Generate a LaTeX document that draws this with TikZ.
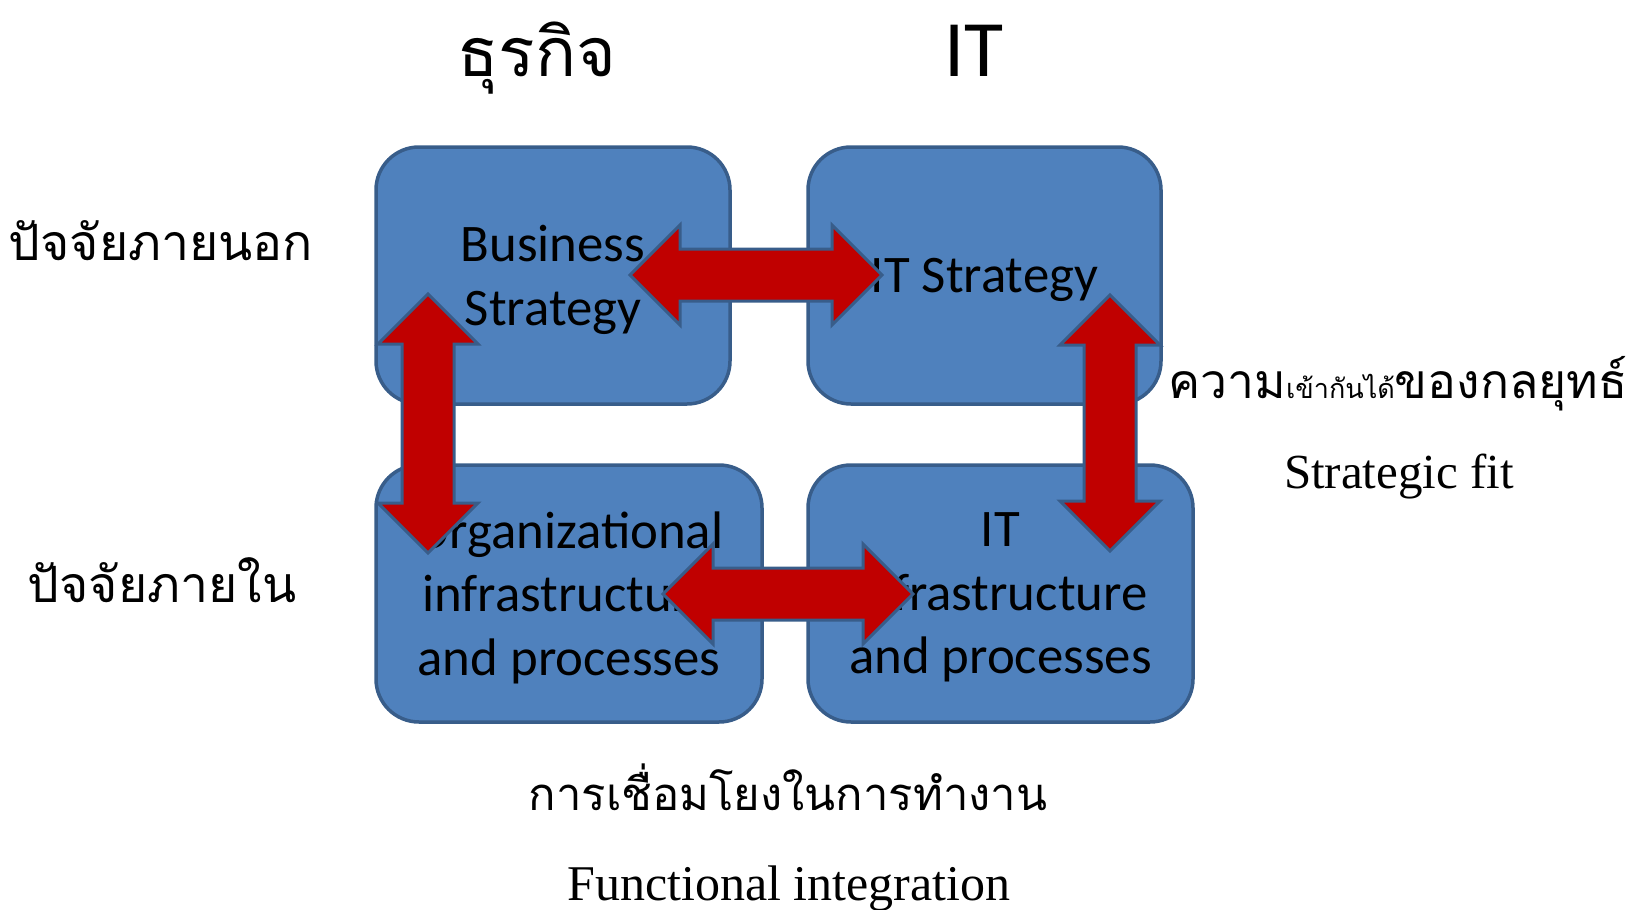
\documentclass[tikz,border=0pt]{standalone}
\usepackage{fontspec}
\setmainfont{Carlito}
\newfontfamily\thaifont[Script=Thai]{Loma}
\newfontfamily\timesfont{Liberation Serif}
\usetikzlibrary{calc}
\definecolor{boxblue}{HTML}{4F81BD}
\definecolor{boxline}{HTML}{385D8A}
\definecolor{fitred}{HTML}{C00000}

\newcommand{\fitarrow}[2]{%
  \filldraw[fitlink] (#1)
    -- ($(#1)!25pt!(#2)!25pt!90:(#2)$) -- ($(#1)!25pt!(#2)!13pt!90:(#2)$)
    -- ($(#2)!25pt!(#1)!13pt!-90:(#1)$) -- ($(#2)!25pt!(#1)!25pt!-90:(#1)$)
    -- (#2)
    -- ($(#2)!25pt!(#1)!25pt!90:(#1)$) -- ($(#2)!25pt!(#1)!13pt!90:(#1)$)
    -- ($(#1)!25pt!(#2)!13pt!-90:(#2)$) -- ($(#1)!25pt!(#2)!25pt!-90:(#2)$)
    -- cycle;}

\tikzset{
  box/.style={draw=boxline, fill=boxblue, line width=1.75pt, rounded corners=21.5pt,
    minimum height=128.5pt, align=center, text depth=0pt,
    font=\fontsize{26.4}{31.75}\selectfont},
  fitlink/.style={draw=boxline, fill=fitred, line width=1.5pt, line join=miter},
  label/.style={inner sep=0pt, anchor=base}
}

\begin{document}
\begin{tikzpicture}[x=0.5pt, y=-0.5pt]
  \useasboundingbox (0,0) rectangle (1645,910);

  \node[label, font=\thaifont\fontsize{34}{40}\selectfont] (business) at (537,76) {ธุรกิจ};
  \node[label, font=\fontsize{40}{48}\selectfont] (it) at (974,76) {IT};
  \node[label, font=\thaifont\fontsize{25}{30}\selectfont] (external) at (161,260) {ปัจจัยภายนอก};
  \node[label, font=\thaifont\fontsize{25}{30}\selectfont] (internal) at (162,602) {ปัจจัยภายใน};

  \node[box, minimum width=177pt] (bizstrat) at (553,275.5) {Business\\Strategy};
  \node[box, minimum width=176.5pt] (itstrat) at (984.5,275.5) {IT Strategy};
  \node[box, minimum width=193pt] (orginfra) at (569,593.5) {Organizational\\infrastructure\\and processes};
  \node[box, minimum width=192.5pt] (itinfra) at (1000.5,593.5) {IT\\infrastructure\\and processes};

  \coordinate (topL) at (630,275);
  \coordinate (topR) at (882,275);
  \coordinate (botL) at (663,594);
  \coordinate (botR) at (913,594);
  \coordinate (leftT) at (428,294);
  \coordinate (leftB) at (428,553);
  \coordinate (rightT) at (1110,295);
  \coordinate (rightB) at (1110,551);

  \fitarrow{topL}{topR}
  \fitarrow{botL}{botR}
  \fitarrow{leftT}{leftB}
  \fitarrow{rightT}{rightB}

  \node[label, font=\thaifont\fontsize{24}{30}\selectfont] (fitth) at (1398,398)
    {ความ{\fontsize{13.5}{16}\selectfont เข้ากันได้}ของกลยุทธ์};
  \node[label, font=\timesfont\fontsize{24.5}{28}\selectfont] (fiten) at (1399,488) {Strategic fit};
  \node[label, font=\thaifont\fontsize{22.7}{28}\selectfont] (functh) at (788,810) {การเชื่อมโยงในการทำงาน};
  \node[label, font=\timesfont\fontsize{25}{30}\selectfont] (funcen) at (789,900) {Functional integration};
\end{tikzpicture}
\end{document}
